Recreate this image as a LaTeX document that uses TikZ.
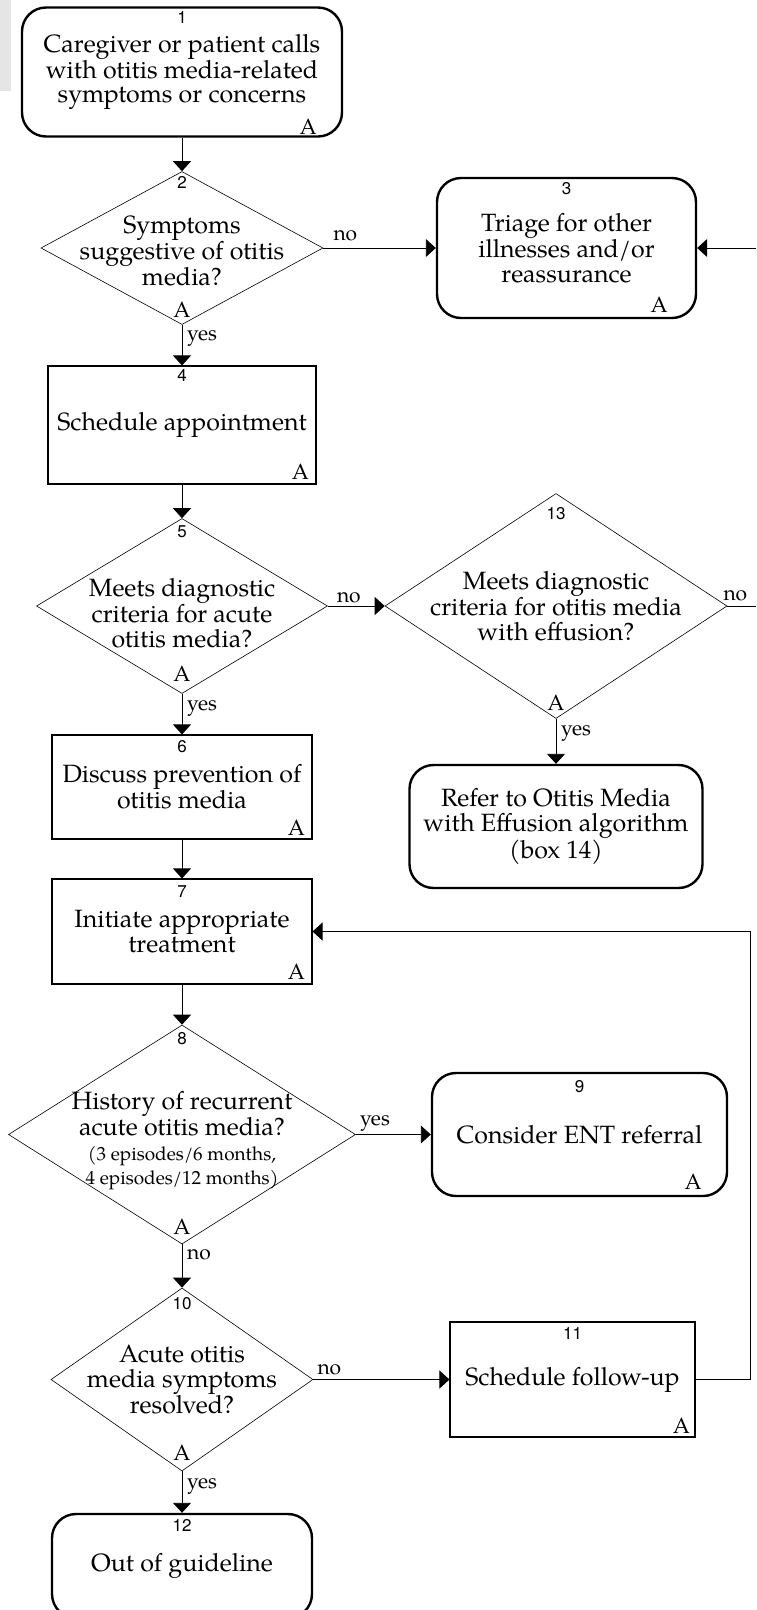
\documentclass[tikz,border=0pt]{standalone}
\usepackage{fontspec}
\setmainfont{texgyrepagella}[Extension=.otf, UprightFont=*-regular, BoldFont=*-bold, ItalicFont=*-italic, BoldItalicFont=*-bolditalic]
\newfontfamily\numfont{TeX Gyre Heros}
\usetikzlibrary{shapes.geometric,arrows.meta}
\newcommand{\bodyfont}{\fontsize{25}{24.5}\selectfont}
\newcommand{\smallbody}{\fontsize{19}{20}\selectfont}
\begin{document}
\begin{tikzpicture}[x=1pt,y=-1pt,
		termbox/.style={draw,line width=2.4pt,rounded corners=24pt,align=center,inner sep=0pt,font=\bodyfont},
		procbox/.style={draw,line width=1.1pt,align=center,inner sep=0pt,font=\bodyfont},
		decide/.style={diamond,draw,line width=0.6pt,inner sep=0pt},
		qtext/.style={align=center,inner sep=0pt,font=\bodyfont},
		num/.style={inner sep=0pt,font=\numfont\fontsize{17}{17}\selectfont},
		amark/.style={inner sep=0pt,font=\fontsize{22}{22}\selectfont},
		lbl/.style={inner sep=0pt,anchor=base west,font=\fontsize{21}{20}\selectfont},
		flow/.style={line width=0.9pt,-{Triangle[width=18pt,length=10pt]}},
		plain/.style={line width=0.9pt}]
		\useasboundingbox (0,0) rectangle (756,1610);
		\clip (0,0) rectangle (756,1610);
		\fill[gray!20] (0,0) rectangle (11,91);
		
		\node[termbox,minimum width=320pt,minimum height=129pt] (b1) at (182,72) {Caregiver or patient calls\\with otitis media-related\\symptoms or concerns};
		\node[decide,minimum width=282pt,minimum height=153pt] (d2) at (182,248) {};
		\node[termbox,minimum width=259pt,minimum height=140pt] (b3) at (566.5,248) {Triage for other\\illnesses and/or\\reassurance};
		\node[procbox,minimum width=268pt,minimum height=118pt] (b4) at (182,425) {Schedule appointment};
		\node[decide,minimum width=291pt,minimum height=175pt] (d5) at (182,606) {};
		\node[decide,minimum width=342pt,minimum height=225pt] (d13) at (556,606) {};
		\node[procbox,minimum width=260pt,minimum height=104pt] (b6) at (182,787) {Discuss prevention of\\otitis media};
		\node[termbox,minimum width=293pt,minimum height=123pt] (b14) at (556,826.5) {Refer to Otitis Media\\with Effusion algorithm\\(box 14)};
		\node[procbox,minimum width=260pt,minimum height=105pt] (b7) at (182,931.5) {Initiate appropriate\\treatment};
		\node[decide,minimum width=347pt,minimum height=219pt] (d8) at (182,1134.5) {};
		\node[termbox,minimum width=295pt,minimum height=123pt] (b9) at (579.5,1134.5) {Consider ENT referral};
		\node[decide,minimum width=262pt,minimum height=183pt] (d10) at (182,1379.5) {};
		\node[procbox,minimum width=245pt,minimum height=115pt] (b11) at (572.5,1379.5) {Schedule follow-up};
		\node[termbox,minimum width=260pt,minimum height=104pt] (b12) at (182,1566) {Out of guideline};
		
		\node[qtext] (q2) at ([yshift=-3pt]d2.center) {Symptoms\\suggestive of otitis\\media?};
		\node[qtext] (q5) at ([yshift=-7pt]d5.center) {Meets diagnostic\\criteria for acute\\otitis media?};
		\node[qtext] (q13) at (d13.center) {Meets diagnostic\\criteria for otitis media\\with effusion?};
		\node[qtext] (q8) at ([yshift=-6pt]d8.center) {History of recurrent\\acute otitis media?\\\smallbody(3 episodes/6 months,\\\smallbody 4 episodes/12 months)};
		\node[qtext] (q10) at (d10.center) {Acute otitis\\media symptoms\\resolved?};
		
		\coordinate (edge3) at (756,248);
		\coordinate (edge13) at (756,606);
		\coordinate (loop) at (750,931.5);
		
		\draw[flow] (b1.south) -- (d2.north);
		\draw[flow] (d2.east) -- (b3.west);
		\draw[flow] (edge3) -- (b3.east);
		\draw[flow] (d2.south) -- (b4.north);
		\draw[flow] (b4.south) -- (d5.north);
		\draw[flow] (d5.east) -- (d13.west);
		\draw[plain] (d13.east) -- (edge13);
		\draw[flow] (d5.south) -- (b6.north);
		\draw[flow] (d13.south) -- (b14.north);
		\draw[flow] (b6.south) -- (b7.north);
		\draw[flow] (b7.south) -- (d8.north);
		\draw[flow] (d8.east) -- (b9.west);
		\draw[flow] (d8.south) -- (d10.north);
		\draw[flow] (d10.east) -- (b11.west);
		\draw[flow] (d10.south) -- (b12.north);
		\draw[flow] (b11.east) -| (loop) -- (b7.east);
		
		\node[lbl] (l2no) at ([xshift=10pt,yshift=8pt]d2.east) {no};
		\node[lbl] (l2yes) at ([xshift=5pt,yshift=-16pt]d2.south) {yes};
		\node[lbl] (l5no) at ([xshift=9pt,yshift=4pt]d5.east) {no};
		\node[lbl] (l5yes) at ([xshift=5pt,yshift=-17pt]d5.south) {yes};
		\node[lbl] (l13no) at ([xshift=-4pt,yshift=6pt]d13.east) {no};
		\node[lbl] (l13yes) at ([xshift=5pt,yshift=-17pt]d13.south) {yes};
		\node[lbl] (l8yes) at ([xshift=4pt,yshift=9pt]d8.east) {yes};
		\node[lbl] (l8no) at ([xshift=5pt,yshift=-15pt]d8.south) {no};
		\node[lbl] (l10no) at ([xshift=4pt,yshift=5pt]d10.east) {no};
		\node[lbl] (l10yes) at ([xshift=5pt,yshift=-17pt]d10.south) {yes};
		
		\node[num] (n1) at ([yshift=-11pt]b1.north) {1};
		\node[num] (n2) at ([yshift=-11pt]d2.north) {2};
		\node[num] (n3) at ([yshift=-12pt]b3.north) {3};
		\node[num] (n4) at ([yshift=-10pt]b4.north) {4};
		\node[num] (n5) at ([yshift=-14pt]d5.north) {5};
		\node[num] (n13) at ([yshift=-20pt]d13.north) {13};
		\node[num] (n6) at ([yshift=-12pt]b6.north) {6};
		\node[num] (n7) at ([yshift=-13pt]b7.north) {7};
		\node[num] (n8) at ([yshift=-14pt]d8.north) {8};
		\node[num] (n9) at ([yshift=-15pt]b9.north) {9};
		\node[num] (n10) at ([yshift=-16pt]d10.north) {10};
		\node[num] (n11) at ([yshift=-12pt]b11.north) {11};
		\node[num] (n12) at ([yshift=-13pt]b12.north) {12};
		
		\node[amark] (a1) at ([xshift=-35pt,yshift=11pt]b1.south east) {A};
		\node[amark] (a2) at ([yshift=15pt]d2.south) {A};
		\node[amark] (a3) at ([xshift=-38pt,yshift=14pt]b3.south east) {A};
		\node[amark] (a4) at ([xshift=-16pt,yshift=13pt]b4.south east) {A};
		\node[amark] (a5) at ([yshift=20pt]d5.south) {A};
		\node[amark] (a13) at ([yshift=16pt]d13.south) {A};
		\node[amark] (a6) at ([xshift=-16pt,yshift=12pt]b6.south east) {A};
		\node[amark] (a7) at ([xshift=-16pt,yshift=13pt]b7.south east) {A};
		\node[amark] (a8) at ([yshift=17pt]d8.south) {A};
		\node[amark] (a9) at ([xshift=-35pt,yshift=15pt]b9.south east) {A};
		\node[amark] (a10) at ([yshift=18pt]d10.south) {A};
		\node[amark] (a11) at ([xshift=-14pt,yshift=12pt]b11.south east) {A};
		
\end{tikzpicture}
\end{document}
